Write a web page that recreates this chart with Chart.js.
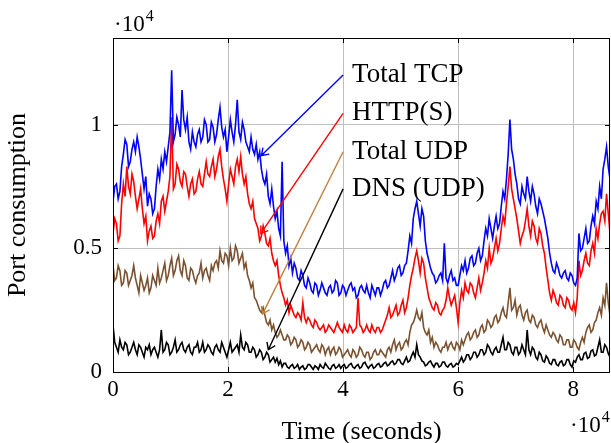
<!DOCTYPE html>
<html>
<head>
<meta charset="utf-8">
<script src="https://cdn.jsdelivr.net/npm/chart.js@4.4.1/dist/chart.umd.min.js"></script>
<style>
  html, body { margin: 0; padding: 0; background: #fff; }
</style>
</head>
<body>
<canvas id="portChart" width="611" height="443"></canvas>
<script>
// samples every 300 s over one day (289 samples)
const sampleStep = 300;

const totalTcp = [
  6900, 7500, 7600, 7000, 7300, 8300, 8800, 9400, 9200, 8300, 8500, 9000, 9300, 8900, 9500, 9100, 8600, 8000, 7400, 7900,
  6700, 7200, 7000, 6400, 6600, 7500, 8200, 7800, 8600, 8200, 8900, 8500, 9100, 9700, 12200, 9300, 9600, 10300, 10000, 9500,
  11400, 10200, 9800, 10300, 9300, 9000, 9700, 9300, 9100, 9600, 9800, 9300, 9500, 10200, 10000, 9300, 9400, 10100, 9900, 9300,
  9600, 10200, 10700, 9900, 9500, 9800, 8900, 9500, 10200, 9700, 9300, 10000, 11000, 9700, 9400, 10100, 9800, 9300, 9100, 8900,
  9500, 9000, 8800, 9200, 8600, 8900, 8200, 7800, 7600, 8000, 7100, 6800, 7400, 6700, 6200, 6500, 5800, 5500, 8500, 5300,
  4800, 5100, 4300, 4600, 4000, 4400, 4200, 3800, 3700, 4100, 3900, 3500, 3400, 3800, 3600, 3300, 3200, 3600, 3500, 3100,
  3300, 3600, 3400, 3200, 3100, 3400, 3500, 3200, 3300, 3700, 3600, 3100, 3200, 3500, 3400, 3100, 3300, 3500, 3600, 3300,
  3400, 3000, 3100, 3400, 3500, 3300, 3200, 3500, 3200, 3000, 3500, 3300, 3100, 3400, 3400, 3100, 3300, 3600, 3700, 3400,
  3500, 3800, 4100, 3700, 3900, 4200, 4300, 3900, 4000, 4300, 4400, 4900, 5500, 5200, 6200, 6600, 6900, 6400, 5900, 6600,
  6300, 5300, 4800, 4500, 4200, 4000, 3900, 3600, 3700, 3900, 4000, 3700, 5200, 3800, 3600, 3900, 4100, 3700, 3800, 3500,
  3500, 3900, 4300, 4100, 4500, 4000, 4200, 4600, 4700, 4300, 4400, 4800, 5000, 4500, 4700, 5300, 5800, 5500, 6200, 5800,
  5400, 5900, 6300, 5800, 6000, 6700, 7300, 7000, 7800, 8800, 10200, 9000, 8600, 8000, 7600, 7000, 6800, 7500, 7200, 7000,
  7900, 7300, 6900, 7500, 7200, 6700, 6400, 7000, 6800, 6500, 6200, 5800, 5400, 4800, 4400, 4100, 4000, 4400, 4200, 3900,
  3800, 4000, 4100, 3800, 3700, 4000, 3900, 3600, 3500, 3800, 5600, 4900, 5000, 5400, 5800, 5200, 5300, 5900, 6300, 6000,
  6900, 6600, 7500, 7000, 8200, 8600, 9100, 8300, 7800
];

const httpS = [
  5600, 6200, 6000, 5300, 5500, 6800, 7600, 7100, 8300, 7500, 7200, 8000, 7700, 7100, 6600, 7000, 7400, 6600, 6000, 6300,
  5300, 5700, 5900, 5400, 5500, 6100, 6400, 6000, 6900, 7100, 6500, 6900, 7300, 7900, 10300, 7400, 7600, 8400, 8200, 7700,
  7500, 8100, 8000, 7500, 7100, 7600, 7800, 7200, 7300, 7800, 8100, 7600, 7500, 8000, 8500, 8000, 7900, 8300, 8600, 7900,
  8200, 8700, 9000, 8300, 7800, 7400, 6900, 7600, 8200, 7900, 7600, 8300, 8600, 8100, 8700, 8000, 7600, 7900, 7200, 6800,
  6600, 6900, 6200, 6000, 5800, 5300, 5500, 5900, 5600, 5200, 5100, 5400, 4800, 4500, 4300, 4500, 3900, 3500, 3200, 3000,
  2700, 2900, 2400, 2700, 2500, 2300, 2200, 2400, 2300, 2100, 2800, 2200, 2000, 2200, 2100, 1900, 1800, 2100, 2000, 1800,
  1700, 1800, 1900, 1600, 1700, 1900, 1800, 1700, 1600, 1800, 2000, 1800, 1700, 1600, 1900, 1700, 1600, 1900, 1800, 1600,
  1700, 1800, 3000, 1900, 1800, 1600, 1700, 1900, 1700, 1600, 1900, 1700, 1600, 1800, 1800, 1600, 1700, 1900, 2100, 2300,
  2600, 2200, 2300, 2500, 2700, 2300, 2400, 2700, 2900, 2400, 2600, 3000, 3500, 3900, 4200, 4600, 4900, 4500, 4000, 4600,
  4400, 3800, 3400, 3000, 2800, 2600, 2500, 2800, 2700, 2400, 2300, 2500, 2600, 2900, 3400, 3000, 2700, 2900, 3100, 2600,
  2000, 2800, 3300, 3000, 3600, 3300, 3200, 3600, 3500, 3200, 3000, 3400, 3800, 3300, 3600, 4000, 4500, 4200, 5000, 4400,
  4600, 5000, 5400, 4900, 5200, 5800, 6300, 6000, 6800, 7500, 8300, 7400, 7000, 6600, 6200, 5700, 5200, 5500, 5700, 6100,
  6600, 5900, 5500, 6100, 5900, 5400, 5200, 5800, 5600, 5100, 4800, 4200, 3700, 3200, 2900, 3300, 3100, 2800, 2700, 3100,
  3000, 2700, 2600, 3000, 2900, 2600, 2500, 2800, 2400, 3000, 4500, 3900, 4100, 4500, 4800, 4400, 4300, 4900, 5200, 4800,
  5800, 5400, 6000, 6400, 6500, 6100, 7200, 6400, 5600
];

const totalUdp = [
  4300, 3700, 3800, 4300, 4100, 3500, 3600, 4100, 4000, 3500, 3700, 3900, 4300, 3800, 3500, 3200, 3900, 3600, 3300, 3500,
  3800, 3200, 3400, 3900, 3700, 3500, 4200, 3600, 3800, 4100, 4400, 3700, 3900, 4300, 4600, 3900, 4100, 4500, 4700, 4100,
  3900, 4500, 4300, 3800, 3700, 4200, 4100, 3800, 3600, 3900, 4000, 4400, 3800, 4100, 4200, 3900, 3700, 4300, 4100, 4400,
  4500, 4200, 4900, 4500, 4400, 4800, 4700, 4300, 5000, 4500, 4600, 5100, 4900, 4400, 4600, 4800, 4200, 4400, 3900, 3700,
  3400, 3600, 3000, 2900, 2700, 2500, 2400, 2600, 2300, 2000, 1900, 2100, 1700, 1900, 1600, 1400, 1500, 1700, 1500, 1300,
  1300, 1500, 1400, 1100, 1200, 1400, 1300, 1000, 1100, 1300, 1200, 900, 1000, 1200, 1100, 800, 900, 1000, 1100, 900,
  800, 1100, 1000, 700, 900, 1000, 700, 900, 1000, 700, 800, 1000, 900, 600, 700, 800, 900, 700, 600, 900,
  800, 600, 700, 1000, 900, 700, 600, 800, 800, 500, 600, 800, 900, 700, 700, 900, 800, 700, 600, 900,
  1000, 800, 1100, 1300, 900, 1100, 1200, 900, 1000, 1200, 1300, 1100, 1600, 1900, 2000, 2200, 2500, 2200, 2100, 2400,
  1800, 1600, 1500, 1700, 1200, 1400, 1000, 1200, 1100, 900, 800, 1000, 1000, 1200, 900, 1100, 1200, 1000, 900, 1200,
  1100, 900, 1300, 1100, 1300, 1500, 1600, 1300, 1400, 1600, 1700, 1400, 1500, 1800, 1900, 1600, 1700, 2100, 2000, 1800,
  1900, 2200, 2300, 2000, 2100, 2400, 2600, 2300, 2200, 2800, 3400, 2500, 2600, 2900, 2300, 2600, 2700, 2300, 2100, 2400,
  2500, 2100, 2000, 2300, 2200, 1900, 1800, 2000, 2100, 1800, 1600, 1900, 1700, 1500, 1400, 1600, 1500, 1300, 1200, 1500,
  1400, 1100, 1100, 1300, 1300, 1000, 1000, 1300, 1200, 1000, 900, 1200, 1400, 1200, 1600, 1800, 1900, 1600, 1700, 2000,
  2100, 2400, 2600, 2300, 3000, 2700, 3600, 2800, 2300
];

const dnsUdp = [
  1900, 1200, 1000, 800, 1300, 1000, 900, 1200, 1100, 700, 800, 1000, 1200, 900, 700, 1100, 1000, 800, 600, 1000,
  900, 1100, 700, 900, 1000, 800, 600, 900, 1700, 800, 900, 1200, 1100, 700, 800, 1000, 1300, 800, 900, 1100,
  1200, 900, 800, 1000, 1100, 800, 700, 1000, 1000, 1200, 800, 900, 1200, 800, 900, 1100, 1000, 800, 700, 1000,
  1100, 900, 800, 1200, 1000, 800, 600, 900, 1200, 800, 900, 1000, 1100, 800, 1500, 1000, 900, 1200, 1100, 800,
  800, 1000, 900, 600, 700, 900, 800, 500, 600, 800, 700, 400, 500, 600, 400, 550, 300, 450, 200, 350,
  350, 200, 150, 250, 300, 150, 200, 300, 100, 200, 250, 100, 150, 300, 300, 200, 100, 250, 200, 100,
  300, 200, 150, 350, 250, 150, 100, 250, 300, 150, 200, 300, 150, 250, 300, 150, 200, 300, 350, 200,
  150, 250, 300, 150, 200, 350, 400, 250, 150, 250, 300, 150, 200, 300, 350, 200, 250, 350, 400, 250,
  300, 400, 450, 300, 350, 500, 500, 350, 300, 450, 600, 400, 450, 650, 800, 600, 1100, 700, 600, 450,
  400, 250, 300, 400, 450, 300, 200, 350, 350, 200, 250, 400, 400, 250, 200, 300, 350, 200, 250, 350,
  300, 450, 600, 400, 500, 700, 700, 500, 600, 800, 800, 600, 700, 900, 900, 700, 800, 1100, 1000, 800,
  700, 900, 1000, 800, 800, 1100, 1400, 900, 900, 1200, 1100, 800, 700, 1000, 1000, 700, 800, 1100, 900, 700,
  1700, 900, 700, 1000, 900, 600, 500, 800, 700, 450, 400, 650, 550, 350, 300, 500, 500, 300, 250, 400,
  450, 250, 300, 500, 500, 300, 200, 450, 400, 600, 700, 500, 500, 750, 800, 550, 600, 850, 900, 650,
  700, 1000, 1300, 800, 800, 1100, 1000, 750, 600
];

const seriesNames = ['Total TCP', 'HTTP(S)', 'Total UDP', 'DNS (UDP)'];
const seriesColors = ['#0000ff', '#ff0000', '#7a5230', '#000000'];
const arrowColors = ['#0000ff', '#ff0000', '#bf8040', '#000000'];

// arrow start (at the label) and tip, in data units
const arrowFrom = [[40000, 12000], [40000, 10450], [40000, 8900], [40000, 7400]];
const arrowTo = [[25800, 8750], [25700, 5600], [26000, 2350], [27000, 900]];

const xTicks = [0, 20000, 40000, 60000, 80000];
const yTicks = [0, 5000, 10000];
const yTickLabels = { 0: '0', 5000: '0.5', 10000: '1' };

const serif = "'Liberation Serif', 'Times New Roman', serif";

const toPoints = (vals) => vals.map((v, i) => ({ x: i * sampleStep, y: v }));

// box, inner tick marks, arrows and the 10^4 factors
const annotationPlugin = {
  id: 'annotations',
  afterDatasetsDraw(chart) {
    const { ctx, chartArea: a, scales } = chart;
    const xs = scales.x, ys = scales.y;
    ctx.save();

    ctx.strokeStyle = '#000';
    ctx.lineWidth = 1;
    ctx.beginPath();
    xTicks.forEach((t) => {
      const px = Math.round(xs.getPixelForValue(t)) + 0.5;
      ctx.moveTo(px, a.bottom); ctx.lineTo(px, a.bottom - 5);
      ctx.moveTo(px, a.top); ctx.lineTo(px, a.top + 5);
    });
    yTicks.forEach((t) => {
      const py = Math.round(ys.getPixelForValue(t)) + 0.5;
      ctx.moveTo(a.left, py); ctx.lineTo(a.left + 5, py);
      ctx.moveTo(a.right, py); ctx.lineTo(a.right - 5, py);
    });
    ctx.stroke();
    ctx.strokeRect(a.left + 0.5, a.top + 0.5, a.right - a.left - 1, a.bottom - a.top);

    // arrows with labels
    ctx.lineWidth = 1.4;
    ctx.font = '27px ' + serif;
    ctx.textBaseline = 'alphabetic';
    ctx.textAlign = 'left';
    seriesNames.forEach((name, i) => {
      const x0 = xs.getPixelForValue(arrowFrom[i][0]);
      const y0 = ys.getPixelForValue(arrowFrom[i][1]);
      const x1 = xs.getPixelForValue(arrowTo[i][0]);
      const y1 = ys.getPixelForValue(arrowTo[i][1]);
      ctx.strokeStyle = arrowColors[i];
      ctx.beginPath();
      ctx.moveTo(x0, y0);
      ctx.lineTo(x1, y1);
      const ang = Math.atan2(y1 - y0, x1 - x0);
      const len = 8;
      ctx.moveTo(x1 - len * Math.cos(ang - 0.6), y1 - len * Math.sin(ang - 0.6));
      ctx.lineTo(x1, y1);
      ctx.lineTo(x1 - len * Math.cos(ang + 0.6), y1 - len * Math.sin(ang + 0.6));
      ctx.stroke();
      ctx.fillStyle = '#000';
      ctx.fillText(name, x0 + 9, y0 + 7);
    });

    // multiplier labels
    const drawFactor = (x, baseline) => {
      ctx.fillStyle = '#000';
      ctx.textAlign = 'left';
      ctx.font = '23px ' + serif;
      ctx.fillText('\u00b7', x, baseline);
      const dotW = ctx.measureText('\u00b7').width;
      ctx.fillText('10', x + dotW, baseline);
      const w = dotW + ctx.measureText('10').width;
      ctx.font = '16px ' + serif;
      ctx.fillText('4', x + w + 1, baseline - 10);
    };
    drawFactor(a.left + 1, a.top - 7);
    drawFactor(a.right - 40, chart.height - 11);

    ctx.restore();
  }
};

const ctx = document.getElementById('portChart').getContext('2d');
new Chart(ctx, {
  type: 'line',
  data: {
    datasets: [
      { label: seriesNames[0], data: toPoints(totalTcp), borderColor: seriesColors[0] },
      { label: seriesNames[1], data: toPoints(httpS), borderColor: seriesColors[1] },
      { label: seriesNames[2], data: toPoints(totalUdp), borderColor: seriesColors[2] },
      { label: seriesNames[3], data: toPoints(dnsUdp), borderColor: seriesColors[3] },
    ],
  },
  options: {
    responsive: false,
    animation: false,
    devicePixelRatio: 1,
    layout: { padding: { top: 38, right: 1, left: 0, bottom: 0 } },
    elements: {
      point: { radius: 0 },
      line: { borderWidth: 1.6, tension: 0, fill: false },
    },
    plugins: {
      legend: { display: false },
      tooltip: { enabled: false },
    },
    scales: {
      x: {
        type: 'linear',
        min: 0,
        max: 86400,
        afterFit: (scale) => { scale.height = 71; },
        afterBuildTicks: (scale) => { scale.ticks = xTicks.map((v) => ({ value: v })); },
        ticks: {
          callback: (v) => String(v / 10000),
          color: '#000',
          font: { family: serif, size: 23 },
          padding: 4,
          maxRotation: 0,
        },
        grid: { color: '#bfbfbf', lineWidth: 1, drawTicks: false },
        border: { display: false },
        title: {
          display: true,
          text: 'Time (seconds)',
          color: '#000',
          font: { family: serif, size: 26, lineHeight: 0.85 },
          padding: 0,
        },
      },
      y: {
        type: 'linear',
        min: 0,
        max: 13500,
        afterFit: (scale) => { scale.width = 113; },
        afterBuildTicks: (scale) => { scale.ticks = yTicks.map((v) => ({ value: v })); },
        ticks: {
          callback: (v) => yTickLabels[v],
          color: '#000',
          font: { family: serif, size: 23 },
          padding: 11,
        },
        grid: { color: '#bfbfbf', lineWidth: 1, drawTicks: false },
        border: { display: false },
        title: {
          display: true,
          text: 'Port consumption',
          color: '#000',
          font: { family: serif, size: 26, lineHeight: 1.2 },
          padding: { top: 3, bottom: 0 },
        },
      },
    },
  },
  plugins: [annotationPlugin],
});
</script>
</body>
</html>
